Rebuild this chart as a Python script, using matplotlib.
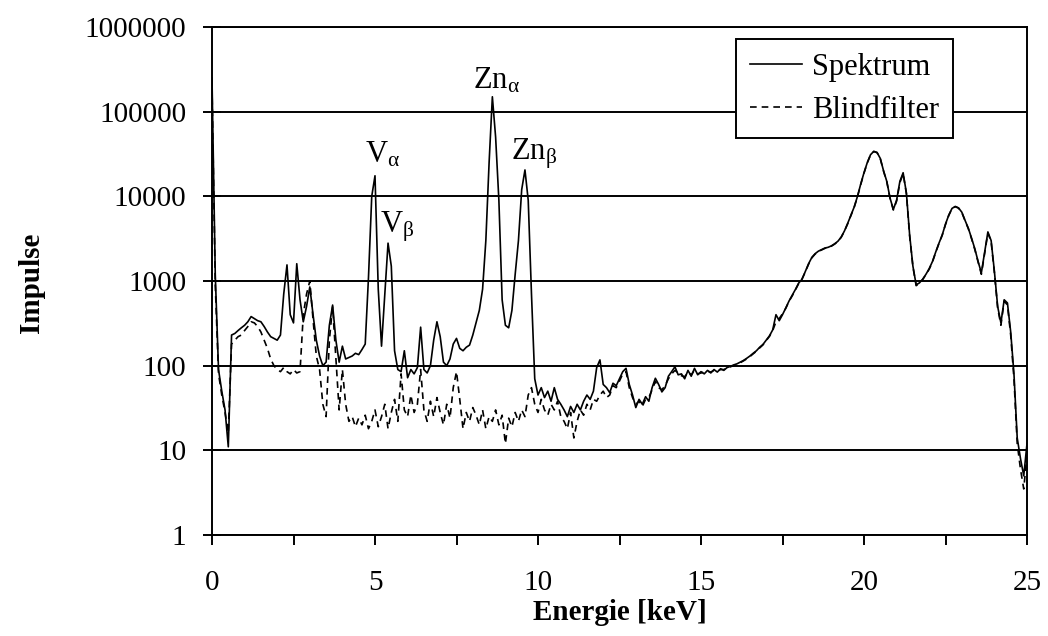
import numpy as np
import matplotlib
matplotlib.use("Agg")
import matplotlib.pyplot as plt
from matplotlib.ticker import FixedLocator, NullLocator, MultipleLocator

plt.rcParams['font.family'] = ['Liberation Serif', 'DejaVu Serif']
plt.rcParams['mathtext.fontset'] = 'custom'
plt.rcParams['mathtext.rm'] = 'Liberation Serif'
plt.rcParams['mathtext.it'] = 'Liberation Serif:italic'
plt.rcParams['mathtext.bf'] = 'Liberation Serif:bold'

# Energy grid (keV), 0.1 keV channels
energy = np.round(np.arange(0, 251) * 0.1, 1)

spektrum = [
    250000, 1200, 90, 50, 30, 11, 230, 240, 260, 280,            # 0.0-0.9
    300, 330, 380, 360, 340, 330, 290, 250, 220, 210,            # 1.0-1.9
    200, 230, 700, 1550, 400, 320, 1600, 600, 330, 500,          # 2.0-2.9
    850, 400, 200, 130, 100, 110, 300, 520, 200, 110,            # 3.0-3.9
    170, 120, 125, 130, 140, 135, 155, 180, 1100, 10000,         # 4.0-4.9
    17500, 800, 170, 700, 2800, 1500, 150, 90, 85, 150,          # 5.0-5.9
    72, 90, 80, 95, 285, 90, 82, 100, 200, 330,                  # 6.0-6.9
    220, 110, 100, 120, 180, 210, 160, 150, 165, 175,            # 7.0-7.9
    230, 320, 450, 800, 3000, 25000, 150000, 50000, 9000, 600,   # 8.0-8.9
    300, 280, 450, 1200, 3000, 12000, 20500, 9000, 700, 70,      # 9.0-9.9
    45, 55, 42, 50, 38, 55, 40, 35, 30, 25,                      # 10.0-10.9
    33, 28, 35, 30, 38, 45, 40, 50, 95, 117,                     # 11.0-11.9
    60, 55, 48, 62, 58, 70, 85, 93, 60, 45,                      # 12.0-12.9
    32, 40, 35, 43, 38, 55, 71, 60, 49, 55,                      # 13.0-13.9
    75, 85, 97, 78, 80, 70, 88, 75, 93, 78,                      # 14.0-14.9
    85, 80, 88, 82, 90, 84, 92, 88, 95, 98,                      # 15.0-15.9
    102, 105, 110, 115, 122, 130, 140, 150, 165, 178,            # 16.0-16.9
    200, 225, 265, 400, 340, 400, 480, 580, 680, 800,            # 17.0-17.9
    950, 1050, 1300, 1600, 1900, 2100, 2250, 2350, 2450, 2500,   # 18.0-18.9
    2600, 2750, 2950, 3300, 3900, 4800, 6000, 7500, 10000, 14000,  # 19.0-19.9
    19000, 25000, 31000, 34000, 33000, 28000, 20000, 15000, 9500, 7000,  # 20.0-20.9
    9000, 15000, 19000, 11000, 3500, 1500, 900, 950, 1050, 1200,  # 21.0-21.9
    1400, 1700, 2200, 2800, 3500, 4700, 6000, 7200, 7600, 7300,  # 22.0-22.9
    6500, 5200, 4200, 3200, 2400, 1700, 1250, 2200, 3800, 3000,  # 23.0-23.9
    1300, 500, 320, 600, 550, 250, 80, 14, 8, 5,                 # 24.0-24.9
    12,                                                          # 25.0
]

blindfilter = [
    200000, 900, 80, 45, 28, 16, 180, 200, 220, 230,             # 0.0-0.9
    260, 290, 330, 320, 290, 250, 200, 160, 120, 100,            # 1.0-1.9
    90, 85, 95, 85, 80, 90, 82, 85, 400, 700,                    # 2.0-2.9
    1000, 350, 130, 90, 35, 25, 200, 500, 120, 30,               # 3.0-3.9
    90, 35, 22, 25, 19, 24, 20, 26, 18, 22,                      # 4.0-4.9
    30, 19, 25, 35, 18, 28, 40, 22, 80, 30,                      # 5.0-5.9
    25, 45, 28, 35, 90, 30, 22, 38, 25, 42,                      # 6.0-6.9
    28, 20, 35, 24, 55, 85, 40, 18, 28, 22,                      # 7.0-7.9
    32, 26, 20, 30, 18, 25, 22, 30, 20, 26,                      # 8.0-8.9
    12, 24, 19, 28, 22, 30, 25, 45, 55, 35,                      # 9.0-9.9
    28, 40, 30, 26, 35, 30, 38, 25, 22, 18,                      # 10.0-10.9
    28, 14, 22, 30, 26, 35, 30, 40, 38, 45,                      # 11.0-11.9
    50, 42, 45, 58, 55, 66, 80, 85, 55, 42,                      # 12.0-12.9
    35, 38, 33, 40, 42, 52, 65, 55, 52, 58,                      # 13.0-13.9
    70, 80, 88, 82, 76, 74, 84, 78, 88, 80,                      # 14.0-14.9
    82, 84, 86, 84, 88, 86, 90, 90, 93, 97,                      # 15.0-15.9
    100, 104, 108, 114, 120, 128, 138, 148, 162, 176,            # 16.0-16.9
    198, 222, 260, 330, 360, 410, 475, 575, 670, 790,            # 17.0-17.9
    940, 1060, 1280, 1580, 1880, 2080, 2230, 2330, 2430, 2480,   # 18.0-18.9
    2580, 2730, 2930, 3280, 3880, 4750, 5950, 7450, 9900, 13800,  # 19.0-19.9
    18800, 24800, 30800, 33800, 32800, 27800, 19800, 14800, 9400, 6900,  # 20.0-20.9
    8800, 14500, 18500, 10800, 3400, 1480, 880, 940, 1040, 1190,  # 21.0-21.9
    1380, 1680, 2180, 2780, 3480, 4650, 5950, 7150, 7550, 7250,  # 22.0-22.9
    6450, 5150, 4150, 3150, 2350, 1680, 1200, 2100, 3700, 2900,  # 23.0-23.9
    1250, 480, 300, 580, 520, 230, 70, 12, 6, 3.5,               # 24.0-24.9
    9,                                                           # 25.0
]

x_ticks = [0, 5, 10, 15, 20, 25]
y_ticks = [1, 10, 100, 1000, 10000, 100000, 1000000]
y_ticklabels = ['1', '10', '100', '1000', '10000', '100000', '1000000']

W, H = 1048, 636
fig = plt.figure(figsize=(W / 100, H / 100), dpi=100)
L, R, T, B = 212, 1027, 27, 535
ax = fig.add_axes([L / W, (H - B) / H, (R - L) / W, (B - T) / H])

ax.plot(energy, spektrum, color='black', lw=1.2, ls='-', label='Spektrum', zorder=3)
ax.plot(energy, blindfilter, color='black', lw=1.2, ls=(0, (4, 3)), label='Blindfilter', zorder=2)

ax.set_yscale('log')
ax.set_xlim(0, 25)
ax.set_ylim(1, 1000000)

ax.yaxis.set_major_locator(FixedLocator(y_ticks))
ax.yaxis.set_minor_locator(NullLocator())
ax.set_yticklabels(y_ticklabels)
ax.xaxis.set_major_locator(FixedLocator(x_ticks))
ax.xaxis.set_minor_locator(MultipleLocator(2.5))

ax.grid(axis='y', which='major', color='black', lw=1.4)
ax.set_axisbelow(True)
for s in ax.spines.values():
    s.set_linewidth(1.4)
    s.set_color('black')

ax.tick_params(axis='y', which='major', direction='inout', length=13, width=1.4,
               labelsize=21, pad=12)
ax.tick_params(axis='x', which='both', direction='out', length=7, width=1.4)
ax.tick_params(axis='x', which='major', labelsize=21, pad=18)

ax.set_xlabel('Energie [keV]', fontsize=21, fontweight='bold')
ax.xaxis.set_label_coords(0.5006, -0.125)
fig.text(31 / W, 1 - 283 / H, 'Impulse', fontsize=21, fontweight='bold',
         rotation=90, ha='center', va='center')

ax.text(4.69, 25400, r'V$_{\mathrm{α}}$', fontsize=22, ha='left', va='baseline')
ax.text(5.15, 3690, r'V$_{\mathrm{β}}$', fontsize=22, ha='left', va='baseline')
ax.text(8.0, 190000, r'Zn$_{\mathrm{α}}$', fontsize=22, ha='left', va='baseline')
ax.text(9.17, 27600, r'Zn$_{\mathrm{β}}$', fontsize=22, ha='left', va='baseline')

leg = ax.legend(loc='upper left', bbox_to_anchor=((736 - L) / (R - L), (B - 39) / (B - T)),
                fontsize=22, frameon=True, fancybox=False, framealpha=1,
                edgecolor='black', handlelength=1.7, handletextpad=0.35,
                borderpad=0.45, labelspacing=0.45, borderaxespad=0)
leg.get_frame().set_linewidth(1.4)

fig.savefig('out.png', dpi=100)
